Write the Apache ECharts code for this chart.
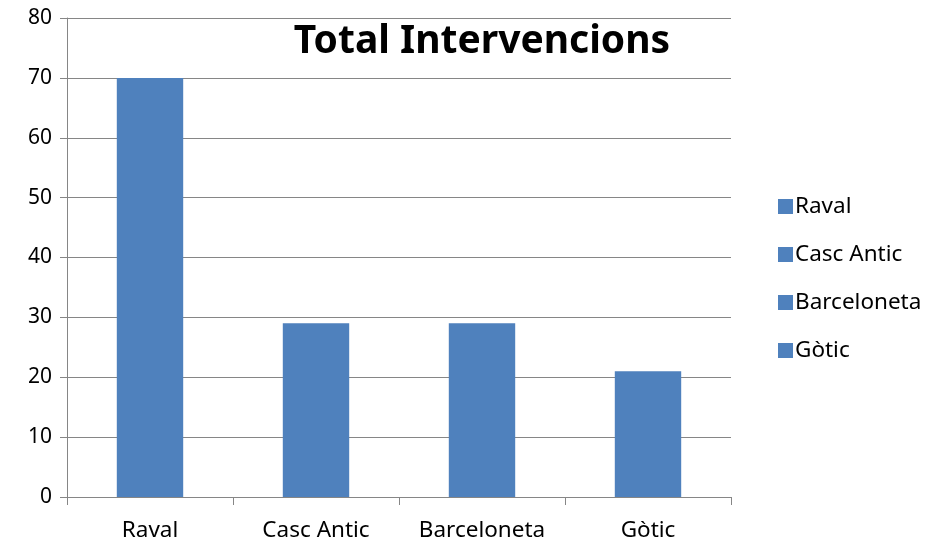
<!DOCTYPE html>
<html>
<head>
<meta charset="utf-8">
<script src="https://cdn.jsdelivr.net/npm/echarts@6/dist/echarts.min.js"></script>
<style>
html,body{margin:0;padding:0;background:#fff;}
#chart{width:925px;height:542px;}
</style>
</head>
<body>
<div id="chart"></div>
<script>
var barris = ['Raval', 'Casc Antic', 'Barceloneta', 'Gòtic'];
var intervencions = [70, 29, 29, 21];
var yTicks = [0, 10, 20, 30, 40, 50, 60, 70, 80];

var chart = echarts.init(document.getElementById('chart'));

// una serie per barri, apilades, perque la llegenda mostri cada barri
var series = barris.map(function(nom, i){
    var d = barris.map(function(b, j){ return j === i ? intervencions[i] : '-'; });
    return {
        name: nom,
        type: 'bar',
        stack: 'total',
        barWidth: '40%',
        itemStyle: { color: '#4f81bd' },
        data: d,
        animation: false
    };
});

var option = {
    backgroundColor: '#fff',
    title: {
        text: 'Total Intervencions',
        left: 477,
        textAlign: 'center',
        top: 17,
        textStyle: {
            fontFamily: 'Noto Sans',
            fontWeight: 'bold',
            fontSize: 39,
            color: '#000'
        }
    },
    legend: {
        orient: 'vertical',
        left: 773,
        top: 190,
        itemWidth: 15,
        itemHeight: 15,
        itemGap: 25,
        icon: 'rect',
        data: barris,
        textStyle: {
            fontFamily: 'Noto Sans',
            fontSize: 22.5,
            lineHeight: 23,
            color: '#000',
            padding: [0, 0, 0, -3]
        }
    },
    grid: {
        left: 67,
        right: 194,
        top: 18,
        bottom: 45,
        outerBoundsMode: 'none',
        containLabel: false
    },
    xAxis: {
        type: 'category',
        data: barris,
        axisLine: { lineStyle: { color: '#868686', width: 1 } },
        axisTick: { show: true, length: 8, lineStyle: { color: '#868686' } },
        axisLabel: {
            interval: 0,
            margin: 22,
            fontFamily: 'Noto Sans',
            fontSize: 22.5,
            color: '#000'
        }
    },
    yAxis: {
        type: 'value',
        min: yTicks[0],
        max: yTicks[yTicks.length - 1],
        interval: 10,
        axisLine: { show: true, lineStyle: { color: '#868686', width: 1 } },
        axisTick: { show: true, length: 7, lineStyle: { color: '#868686' } },
        splitLine: { show: true, lineStyle: { color: '#868686', width: 1 } },
        axisLabel: {
            margin: 15,
            fontFamily: 'Noto Sans',
            fontSize: 21,
            color: '#000'
        }
    },
    series: series
};

chart.setOption(option);
</script>
</body>
</html>
